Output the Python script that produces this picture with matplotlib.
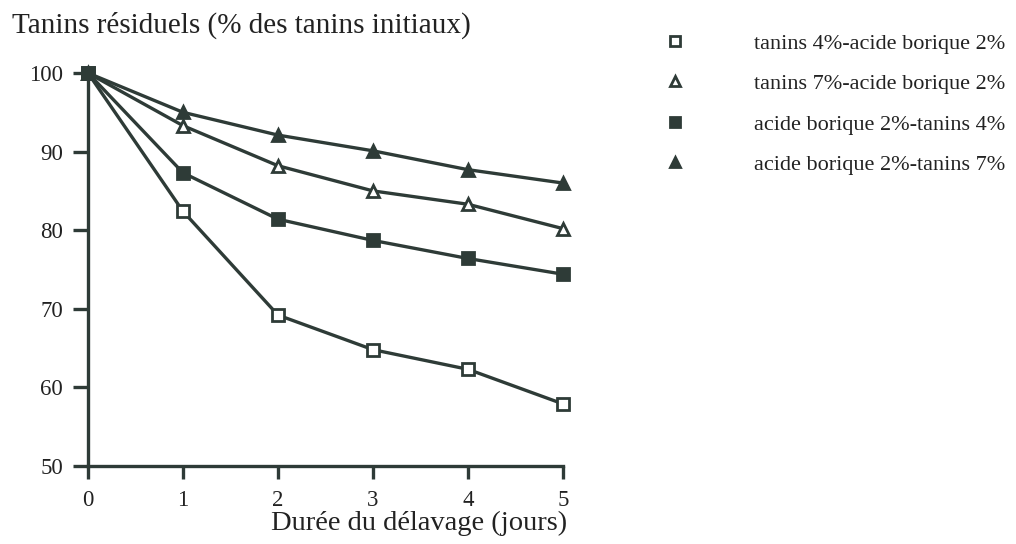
import matplotlib
matplotlib.use("Agg")
import matplotlib.pyplot as plt
from matplotlib.lines import Line2D

days = [0, 1, 2, 3, 4, 5]
labels = ["tanins 4%-acide borique 2%", "tanins 7%-acide borique 2%",
          "acide borique 2%-tanins 4%", "acide borique 2%-tanins 7%"]
tan4_ab2 = [100, 82.4, 69.2, 64.8, 62.3, 57.9]
tan7_ab2 = [100, 93.3, 88.2, 85.0, 83.3, 80.2]
ab2_tan4 = [100, 87.3, 81.4, 78.7, 76.4, 74.4]
ab2_tan7 = [100, 95.0, 92.1, 90.1, 87.7, 86.0]
yticks = [50, 60, 70, 80, 90, 100]
xticks = [0, 1, 2, 3, 4, 5]

plt.rcParams['font.family'] = ['Liberation Serif', 'DejaVu Serif']
col = '#2e3b37'
txt = '#222222'

fig = plt.figure(figsize=(10.16, 5.44), dpi=100)
ax = fig.add_axes([0.0866, 0.1434, 0.4675, 0.7224])

series = [tan4_ab2, tan7_ab2, ab2_tan4, ab2_tan7]
markers = ['s', '^', 's', '^']
faces = ['white', 'white', col, col]
sizes = [8, 8, 9, 9]
for s, m, fc, ms, lab in zip(series, markers, faces, sizes, labels):
    ax.plot(days, s, color=col, lw=2.4, marker=m, ms=ms, mfc=fc,
            mec=col, mew=2, clip_on=False, zorder=3, label=lab)

ax.set_xlim(0, 5)
ax.set_ylim(50, 100)
ax.set_xticks(xticks)
ax.set_yticks(yticks)
for sp in ['top', 'right']:
    ax.spines[sp].set_visible(False)
for sp in ['left', 'bottom']:
    ax.spines[sp].set_linewidth(2.4)
    ax.spines[sp].set_color(col)
ax.tick_params(axis='y', direction='out', length=11, width=2.4, color=col,
               labelsize=16.5, pad=7, labelcolor=txt)
ax.tick_params(axis='x', direction='out', length=9, width=2.4, color=col,
               labelsize=16.5, pad=8, labelcolor=txt)

fig.text(12 / 1016, 1 - 25 / 544, "Tanins résiduels (% des tanins initiaux)",
         fontsize=21, va='center', ha='left', color=txt)
ax.set_xlabel("Durée du délavage (jours)", fontsize=20.5, color=txt,
              ha='right', va='top')
ax.xaxis.set_label_coords(1.008, -0.115)

leg_handles = [Line2D([], [], ls='none', marker=m, ms=7, mfc=fc, mec=col,
                      mew=2, color=col) for m, fc in zip(markers, faces)]
fig.legend(leg_handles, labels, loc='upper left',
           bbox_to_anchor=(664 / 1016, 1 - 33 / 544), frameon=False,
           fontsize=16, handlelength=1.0, handletextpad=3.05,
           labelspacing=0.9, borderpad=0, borderaxespad=0,
           labelcolor=txt)

fig.savefig("out.png", dpi=100, facecolor='white')
